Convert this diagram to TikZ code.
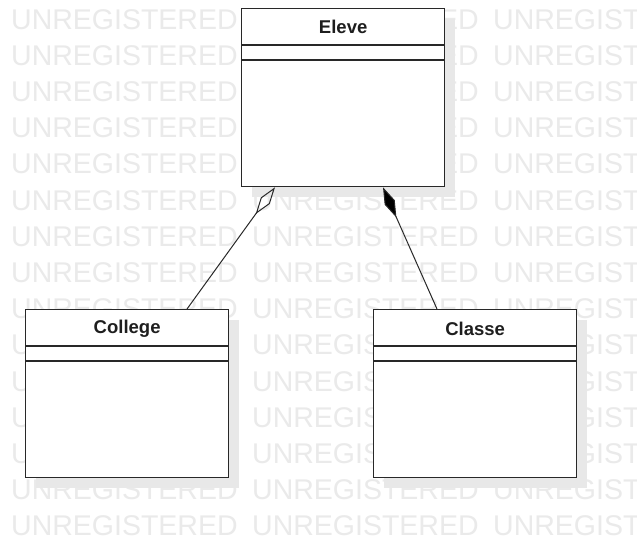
\documentclass[tikz,border=0pt]{standalone}
\usepackage{fontspec}
\setmainfont{Liberation Sans}
\usetikzlibrary{arrows.meta,shadows,calc}

\definecolor{wmgray}{RGB}{234,234,234}
\definecolor{shadowgray}{RGB}{232,232,232}
\definecolor{edge}{RGB}{40,40,40}
\definecolor{titleink}{RGB}{30,30,30}

\tikzset{
  classbox/.style={draw=edge, line width=1.3pt, fill=white, rectangle,
    inner sep=0pt, anchor=north west, minimum width=203pt, minimum height=168pt,
    drop shadow={shadow xshift=10pt, shadow yshift=-10pt, fill=shadowgray, opacity=1}},
  classtitle/.style={font=\fontsize{18.5}{20}\selectfont\bfseries, text=titleink, inner sep=0pt},
  compartment/.style={draw=edge, line width=1.3pt},
  watermark/.style={font=\fontsize{28.5}{30}\selectfont, text=wmgray, inner sep=0pt, anchor=base west},
  assoc/.style={draw=edge, line width=1pt},
}

\begin{document}
\begin{tikzpicture}[x=1pt, y=-1pt]
  \useasboundingbox (0,0) rectangle (637,539);
  \fill[white] (0,0) rectangle (637,539);

  % background watermark grid
  \foreach \i in {0,...,14} {
    \foreach \j in {0,1,2} {
      \node[watermark] (wm-\i-\j) at ({11+241*\j}, {29+36.2*\i}) {UNREGISTERED};
    }
  }

  % Eleve
  \node[classbox, minimum height=178pt] (eleve) at (241,8) {};
  \draw[compartment] ($(eleve.north west)+(0,37)$) -- ($(eleve.north east)+(0,37)$);
  \draw[compartment] ($(eleve.north west)+(0,52)$) -- ($(eleve.north east)+(0,52)$);
  \node[classtitle] (eleve-name) at ($(eleve.north)+(0,19)$) {Eleve};

  % College
  \node[classbox] (college) at (25,309) {};
  \draw[compartment] ($(college.north west)+(0,37)$) -- ($(college.north east)+(0,37)$);
  \draw[compartment] ($(college.north west)+(0,52)$) -- ($(college.north east)+(0,52)$);
  \node[classtitle] (college-name) at ($(college.north)+(0,19.5)$) {College};

  % Classe
  \node[classbox] (classe) at (373,309) {};
  \draw[compartment] ($(classe.north west)+(0,37)$) -- ($(classe.north east)+(0,37)$);
  \draw[compartment] ($(classe.north west)+(0,52)$) -- ($(classe.north east)+(0,52)$);
  \node[classtitle] (classe-name) at ($(classe.north)+(0,19.5)$) {Classe};

  % aggregation and composition
  \draw[assoc, -{Diamond[open, length=33pt, width=11pt, line width=1pt]}]
    ($(college.north west)+(162,0)$) -- ($(eleve.south west)+(34,0)$);
  \draw[assoc, -{Diamond[length=33pt, width=11pt, fill=black]}]
    ($(classe.north west)+(64,0)$) -- ($(eleve.south west)+(142,0)$);
\end{tikzpicture}
\end{document}
